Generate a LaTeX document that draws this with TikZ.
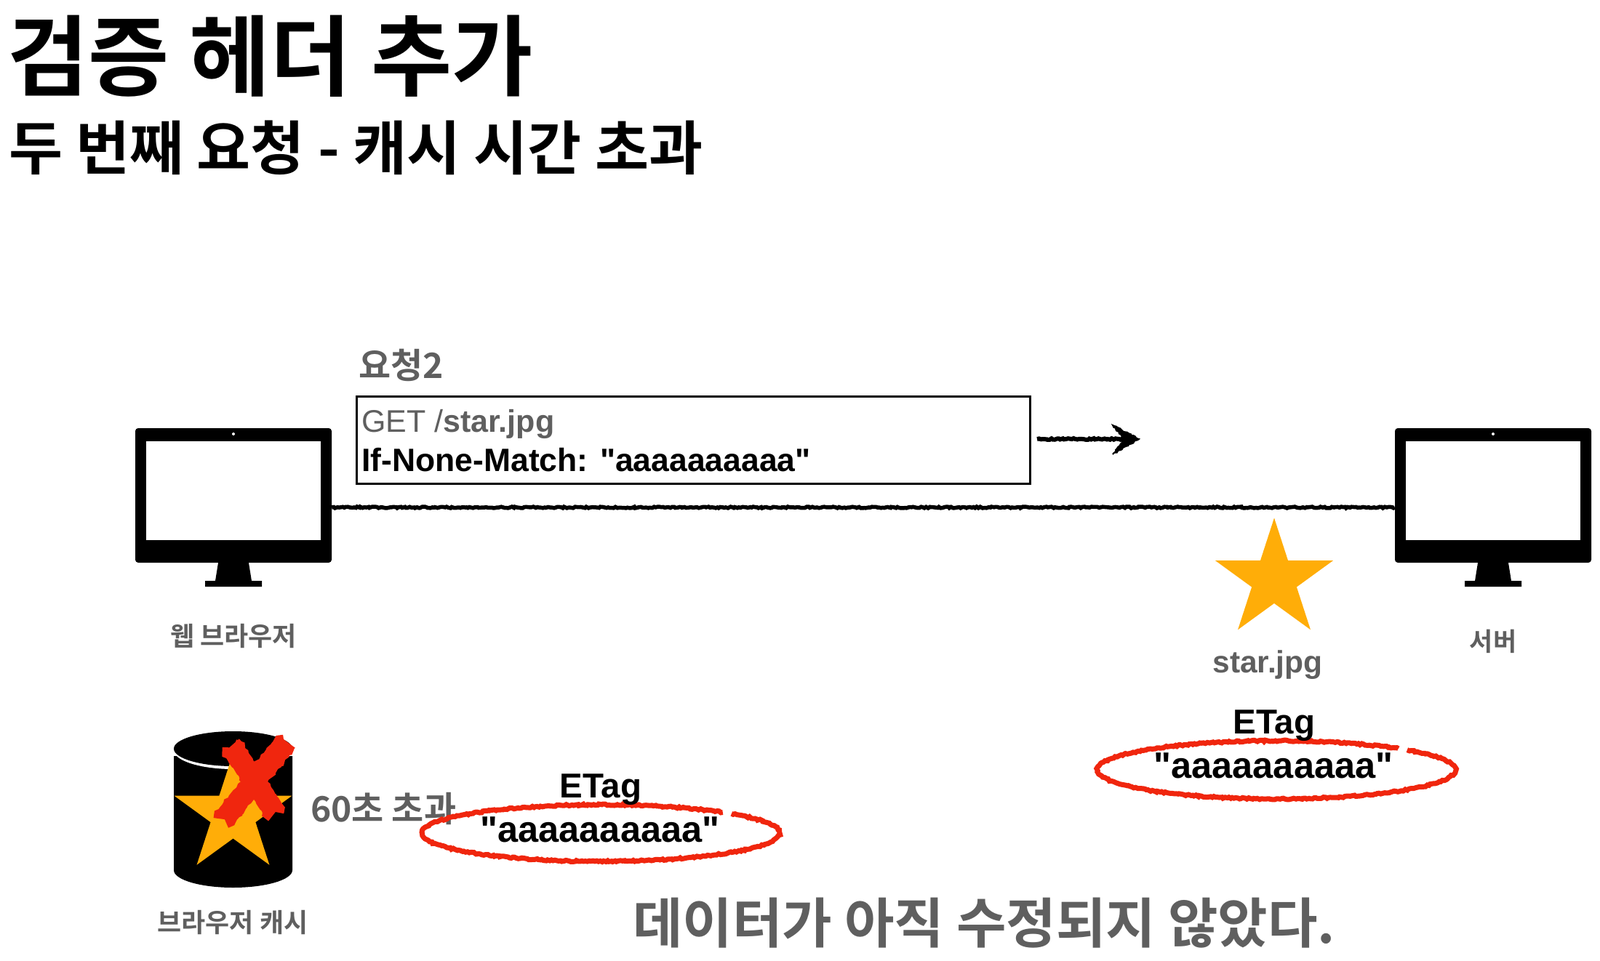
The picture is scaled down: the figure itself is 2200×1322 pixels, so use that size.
\documentclass[tikz,border=0pt]{standalone}
\usepackage{fontspec}
\setmainfont{Liberation Sans}[Ligatures=TeXOff]
\newfontfamily\kr{Noto Sans CJK KR}[BoldFont={Noto Sans CJK KR Bold}]
\usepackage{tikz}
\usetikzlibrary{decorations.pathmorphing,shapes.geometric,arrows.meta,positioning}
\definecolor{labelgrey}{HTML}{5F5F5F}
\definecolor{starorange}{HTML}{FFAD08}
\definecolor{markred}{HTML}{F0260E}
\newcommand{\fs}[1]{\fontsize{#1}{#1}\selectfont}
\tikzset{
	krlabel/.style={text=labelgrey, inner sep=0pt, font=\kr\bfseries\fs{#1}},
	latlabel/.style={inner sep=0pt, anchor=base, font=\bfseries\fs{#1}},
	rough/.style={decorate, decoration={random steps, segment length=2.5pt, amplitude=1pt}},
	redring/.style={rough, draw=markred, line width=7pt},
	starshape/.style={star, star points=5, star point ratio=2.618, fill=starorange, minimum size=170pt, inner sep=0pt, outer sep=0pt}
}

\begin{document}
\begin{tikzpicture}[x=1pt, y=-1pt]
	\useasboundingbox[fill=white] (0,0) rectangle (2200,1322);

	\node[inner sep=0pt, anchor=west, font=\kr\bfseries\fs{121}] (title) at (10,77) {검증 헤더 추가};
	\node[inner sep=0pt, anchor=west, font=\kr\bfseries\fs{80.5}] (subtitle) at (12,203) {두 번째 요청 - 캐시 시간 초과};

	\foreach \x/\n in {321/browser, 2053/server} {
		\node[fill=black, rounded corners=4pt, minimum width=270pt, minimum height=185pt, inner sep=0pt] (\n) at (\x,681.5) {};
		\node[fill=white, minimum width=240pt, minimum height=136pt, inner sep=0pt] (\n-screen) at (\x,675) {};
		\node[fill=white, circle, minimum size=4pt, inner sep=0pt] (\n-cam) at (\x,597) {};
		\fill (\n.south) ++(-21,0) -- ++(42,0) -- ++(4,25) -- ++(14,0) -- ++(0,8) -- ++(-78,0) -- ++(0,-8) -- ++(14,0) -- cycle;
	}
	\node[krlabel=36] (browserlabel) at (321,875) {웹 브라우저};
	\node[krlabel=35] (serverlabel) at (2053,882) {서버};

	\coordinate (wire) at (0,698);
	\draw[rough, line width=5.5pt] (browser.east |- wire) -- (server.west |- wire);

	\node[krlabel=48, anchor=west] (reqtitle) at (493,502) {요청2};
	\node[draw, line width=2.5pt, minimum width=926pt, minimum height=120pt, anchor=north west, inner sep=0pt] (reqbox) at (489,544) {};
	\node[inner sep=0pt, anchor=base west, text=labelgrey, font=\fs{43}] (reqline) at (497,594) {GET /\textbf{star.jpg}};
	\node[inner sep=0pt, anchor=base west, font=\bfseries\fs{44.5}] (reqhdr) at (497,648) {If-None-Match: "aaaaaaaaaa"};

	\coordinate (arrowto) at (1566,604);
	\draw[rough, line width=6pt] (1426,604) -- (1545,604);
	\fill[rough, draw, line width=2pt] (1530,585) -- (arrowto) -- (1530,625) -- (1546,604) -- cycle;

	\node[starshape] (serverstar) at (1752,797.5) {};
	\node[latlabel=42.5, text=labelgrey] (starname) at (1743,925) {star.jpg};

	\fill (239,1040) -- (239,1197) arc[start angle=180, delta angle=-180, x radius=81.5, y radius=24] -- (402,1040) -- cycle;
	\fill[white] (320.5,1032) ellipse[x radius=81.5, y radius=26];
	\fill (320.5,1030) ellipse[x radius=81.5, y radius=24];
	\node[starshape] (cachestar) at (320.5,1121) {};
	\draw[rough, markred, line width=29pt] (394,1020) -- (308,1127);
	\draw[rough, markred, line width=29pt] (318,1026) -- (378,1118);
	\node[krlabel=36] (cachelabel) at (320,1269) {브라우저 캐시};

	\node[krlabel=48, anchor=west] (expired) at (427,1112) {60초 초과};

	\draw[redring] (826,1146) ++(-47:246 and 39) arc[start angle=-47, delta angle=-356, x radius=246, y radius=39];
	\draw[redring] (1755,1059) ++(-47:246 and 40) arc[start angle=-47, delta angle=-356, x radius=246, y radius=40];

	\node[latlabel=47.5] (etagclient) at (826,1097) {ETag};
	\node[latlabel=50.5] (valclient) at (825,1158) {"aaaaaaaaaa"};
	\node[latlabel=47.5] (etagserver) at (1752,1009) {ETag};
	\node[latlabel=50.5] (valserver) at (1751,1070) {"aaaaaaaaaa"};

	\node[krlabel=74.5, anchor=west] (verdict) at (870,1270) {데이터가 아직 수정되지 않았다.};
\end{tikzpicture}
\end{document}
